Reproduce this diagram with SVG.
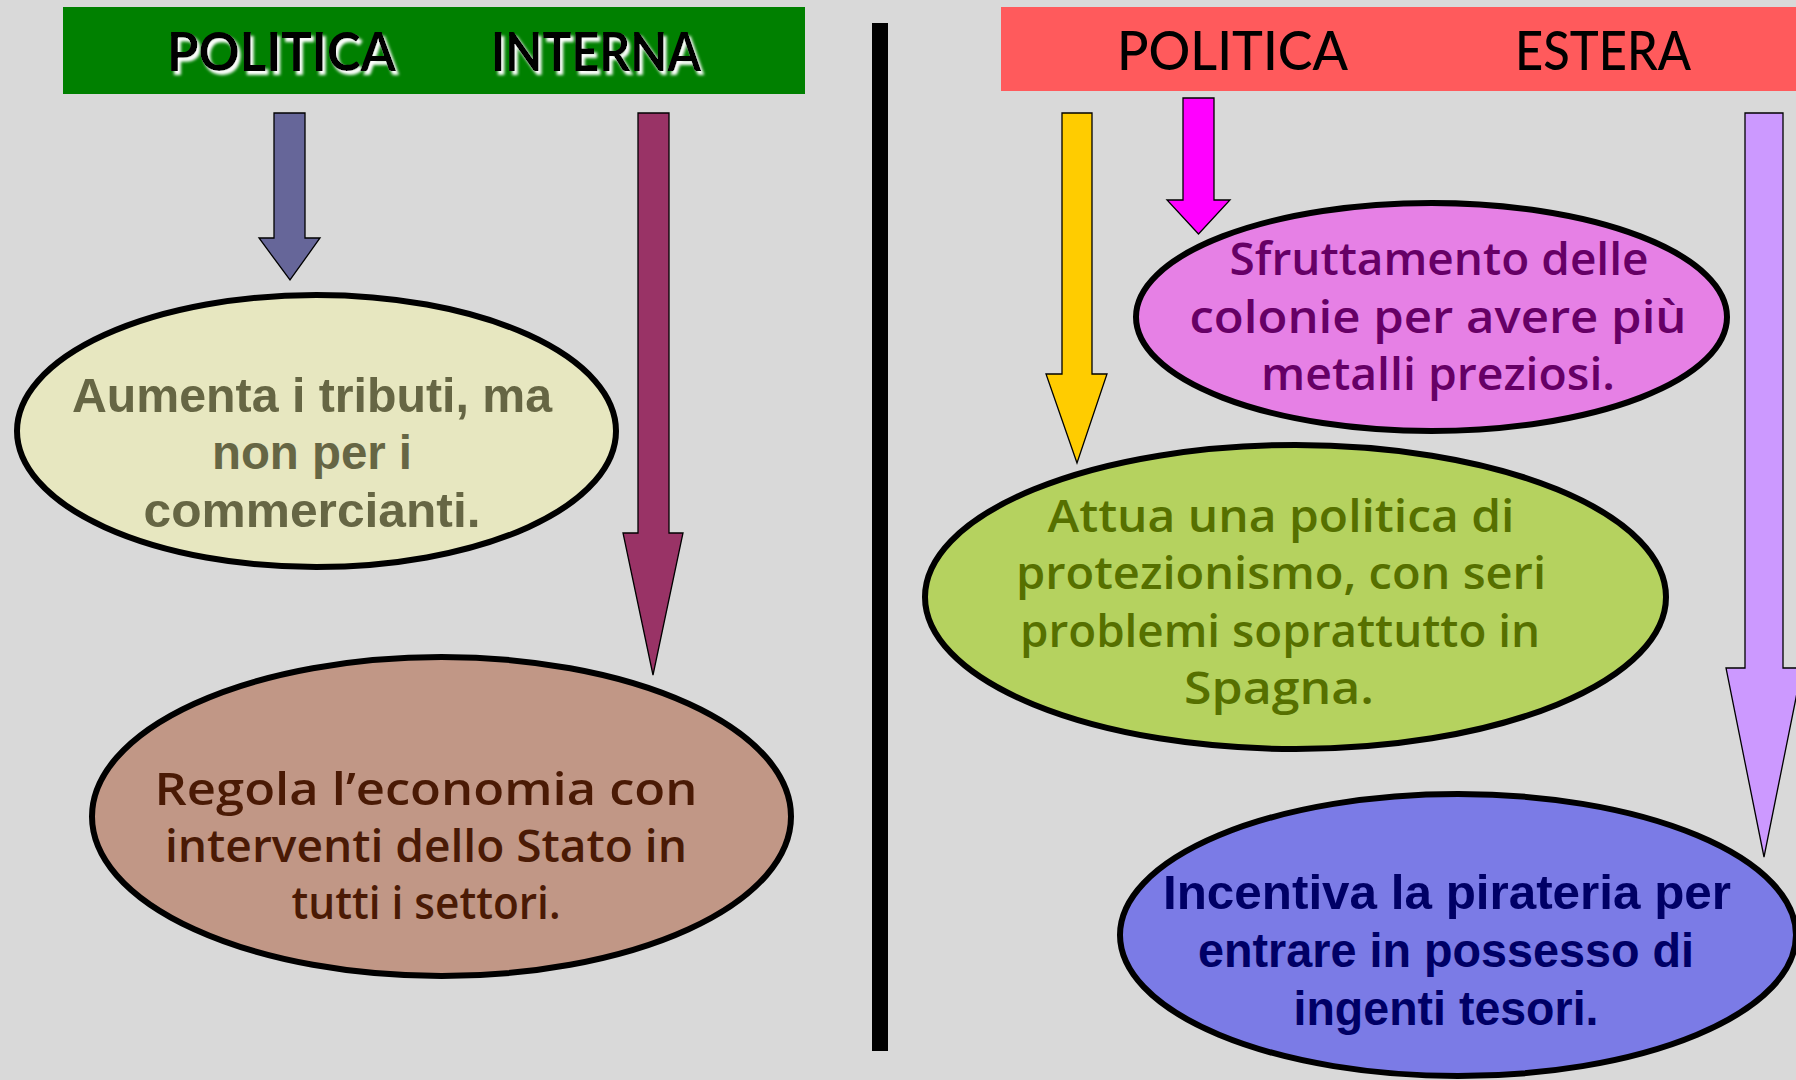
<svg xmlns="http://www.w3.org/2000/svg" width="1796" height="1080" viewBox="0 0 1796 1080">
<defs>
<style>
.hdr{font-family:Lato,"Open Sans","Liberation Sans",sans-serif;font-weight:700;font-size:54px;fill:#000}
.ell{stroke:#000;stroke-width:6}
.arr{stroke:#000;stroke-width:1.3}
.ta{font-family:"Liberation Sans",Arial,sans-serif;font-weight:700;font-size:48px;text-anchor:middle}
.tb{font-family:"Open Sans","Noto Sans","Liberation Sans",sans-serif;font-weight:600;font-size:46px;text-anchor:middle}
</style>
<filter id="wsh" x="-10%" y="-30%" width="130%" height="160%">
<feDropShadow dx="3" dy="4" stdDeviation="1.5" flood-color="#fff" flood-opacity="1"/>
</filter>
</defs>
<rect x="0" y="0" width="1796" height="1080" fill="#d9d9d9"/>

<g id="divider"><rect x="872" y="23" width="16" height="1028" fill="#000"/></g>

<g id="header-interna">
<rect x="63" y="7" width="742" height="87" fill="#008000"/>
<text class="hdr" x="167" y="71" textLength="229" lengthAdjust="spacingAndGlyphs" filter="url(#wsh)">POLITICA</text>
<text class="hdr" x="491" y="71" textLength="210" lengthAdjust="spacingAndGlyphs" filter="url(#wsh)">INTERNA</text>
</g>

<g id="header-estera">
<rect x="1001" y="7" width="800" height="84" fill="#ff5a5c"/>
<text class="hdr" style="font-weight:500" x="1117" y="70" textLength="231" lengthAdjust="spacingAndGlyphs">POLITICA</text>
<text class="hdr" style="font-weight:500" x="1515" y="70" textLength="176" lengthAdjust="spacingAndGlyphs">ESTERA</text>
</g>

<g id="connectors">
<polygon class="arr" fill="#666699" points="274,113 305,113 305,238 320,238 290,280 259,238 274,238"/>
<polygon class="arr" fill="#993366" points="638,113 669,113 669,533 683,533 653,675 623,533 638,533"/>
<polygon class="arr" fill="#ffcc00" points="1062,113 1092,113 1092,374 1107,374 1077,463 1046,374 1062,374"/>
<polygon class="arr" fill="#ff00ff" points="1183,98 1214,98 1214,200 1230,200 1198.5,234 1167,200 1183,200"/>
<polygon class="arr" fill="#cc99ff" points="1745,113 1783,113 1783,668 1802,668 1764,857 1726,668 1745,668"/>
</g>

<g id="node-tributi">
<ellipse class="ell" cx="316.5" cy="431" rx="299.5" ry="136" fill="#e7e7c0"/>
<text class="ta" fill="#666644">
<tspan x="312" y="412" textLength="480" lengthAdjust="spacingAndGlyphs">Aumenta i tributi, ma</tspan>
</text>
<text class="ta" fill="#666644">
<tspan x="312" y="469" textLength="200" lengthAdjust="spacingAndGlyphs">non per i</tspan>
</text>
<text class="ta" fill="#666644">
<tspan x="312" y="527" textLength="337" lengthAdjust="spacingAndGlyphs">commercianti.</tspan>
</text>
</g>

<g id="node-economia">
<ellipse class="ell" cx="441.5" cy="816.5" rx="349.5" ry="159.5" fill="#c19786"/>
<text class="tb" fill="#4a1a05" x="426" y="805" textLength="543" lengthAdjust="spacingAndGlyphs">Regola l’economia con</text>
<text class="tb" fill="#4a1a05" x="426" y="862" textLength="522" lengthAdjust="spacingAndGlyphs">interventi dello Stato in</text>
<text class="tb" fill="#4a1a05" x="426" y="919" textLength="269" lengthAdjust="spacingAndGlyphs">tutti i settori.</text>
</g>

<g id="node-colonie">
<ellipse class="ell" cx="1431.5" cy="317" rx="295.5" ry="114" fill="#e680e5"/>
<text class="tb" fill="#660066" x="1439" y="275" textLength="419" lengthAdjust="spacingAndGlyphs">Sfruttamento delle</text>
<text class="tb" fill="#660066" x="1438" y="333" textLength="497" lengthAdjust="spacingAndGlyphs">colonie per avere più</text>
<text class="tb" fill="#660066" x="1438" y="390" textLength="354" lengthAdjust="spacingAndGlyphs">metalli preziosi.</text>
</g>

<g id="node-protezionismo">
<ellipse class="ell" cx="1295.5" cy="597" rx="370.5" ry="152" fill="#b5d25f"/>
<text class="tb" fill="#567000" x="1281" y="532" textLength="467" lengthAdjust="spacingAndGlyphs">Attua una politica di</text>
<text class="tb" fill="#567000" x="1281" y="589" textLength="530" lengthAdjust="spacingAndGlyphs">protezionismo, con seri</text>
<text class="tb" fill="#567000" x="1280" y="647" textLength="520" lengthAdjust="spacingAndGlyphs">problemi soprattutto in</text>
<text class="tb" fill="#567000" x="1279" y="704" textLength="190" lengthAdjust="spacingAndGlyphs">Spagna.</text>
</g>

<g id="node-pirateria">
<ellipse class="ell" cx="1458" cy="935" rx="338" ry="141" fill="#7b7be6"/>
<text class="ta" fill="#000066" x="1447" y="909" textLength="568" lengthAdjust="spacingAndGlyphs">Incentiva la pirateria per</text>
<text class="ta" fill="#000066" x="1446" y="967" textLength="496" lengthAdjust="spacingAndGlyphs">entrare in possesso di</text>
<text class="ta" fill="#000066" x="1446" y="1025" textLength="305" lengthAdjust="spacingAndGlyphs">ingenti tesori.</text>
</g>
</svg>
